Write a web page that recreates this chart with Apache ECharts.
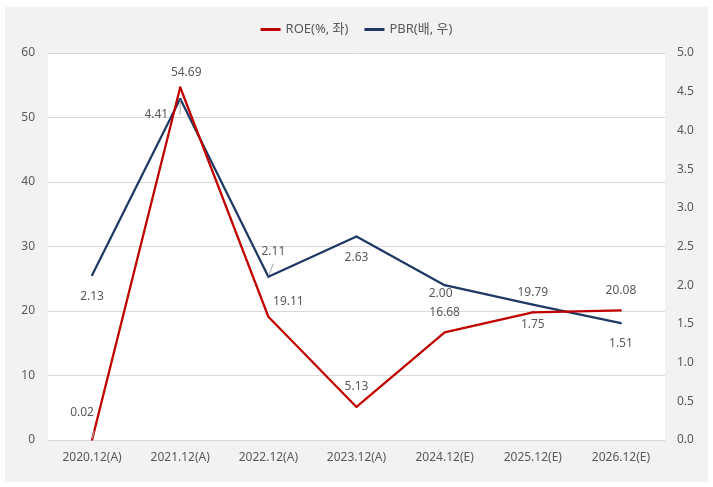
<!DOCTYPE html>
<html><head><meta charset="utf-8">
<script src="https://cdn.jsdelivr.net/npm/echarts@6/dist/echarts.min.js"></script>
<style>html,body{margin:0;padding:0;background:#fff}#c{width:713px;height:487px}</style>
</head><body><div id="c"></div>
<script>
const categories = ['2020.12(A)','2021.12(A)','2022.12(A)','2023.12(A)','2024.12(E)','2025.12(E)','2026.12(E)'];
const roe = [0.02, 54.69, 19.11, 5.13, 16.68, 19.79, 20.08];
const pbr = [2.13, 4.41, 2.11, 2.63, 2.00, 1.75, 1.51];
const roeName = 'ROE(%, 좌)';
const pbrName = 'PBR(배, 우)';

const FONT = '"Noto Sans", "Noto Sans CJK KR", sans-serif';
const TXT = '#595959';
const roeOffsets = [[-10,-15],[6,-3],[20,-3],[0,-8],[0,-8],[0,-8],[0,-8]];
const roeLine = [true,false,false,false,false,false,false];
const pbrLabels = [
  {position:'bottom', offset:[0,9]},
  {position:'left', offset:[-6,16]},
  {position:'top', offset:[5,-13]},
  {position:'bottom', offset:[0,9]},
  {position:'bottom', offset:[-4,-4]},
  {position:'bottom', offset:[0,8]},
  {position:'bottom', offset:[0,8]}
];
const pbrLine = [false,true,true,false,false,false,false];
const chart = echarts.init(document.getElementById('c'), null, {renderer:'canvas'});
chart.setOption({
  backgroundColor:'#ffffff',
  textStyle:{fontFamily:FONT},
  graphic:[{type:'rect', z:-10, shape:{x:5,y:7,width:703,height:475}, style:{fill:'#f2f2f2'}}],
  legend:{
    top:18, left:'center', itemWidth:20, itemHeight:3, itemGap:16, icon:'rect',
    textStyle:{color:TXT, fontSize:13, fontFamily:FONT},
    data:[{name:roeName, itemStyle:{color:'#c00000', opacity:1}}, {name:pbrName, itemStyle:{color:'#1f3864', opacity:1}}]
  },
  grid:{left:48, right:48, top:53, bottom:47, show:true, backgroundColor:'#ffffff', borderWidth:0},
  xAxis:{
    type:'category', data:categories, boundaryGap:true,
    axisLine:{lineStyle:{color:'#d9d9d9', width:1}},
    axisTick:{show:false},
    axisLabel:{color:TXT, fontSize:12, margin:12, fontFamily:FONT}
  },
  yAxis:[
    {type:'value', min:0, max:60, interval:10,
     axisLine:{show:false}, axisTick:{show:false},
     splitLine:{lineStyle:{color:'#d9d9d9', width:1}},
     axisLabel:{color:TXT, fontSize:12, margin:13, fontFamily:FONT}},
    {type:'value', min:0, max:5, interval:0.5,
     axisLine:{show:false}, axisTick:{show:false}, splitLine:{show:false},
     axisLabel:{color:TXT, fontSize:12, margin:12, fontFamily:FONT, formatter:v=>v.toFixed(1)}}
  ],
  series:[
    {name:roeName, type:'line', yAxisIndex:0, symbol:'circle', symbolSize:2, showSymbol:true, smooth:false,
     lineStyle:{color:'#c00000', width:2.25}, itemStyle:{color:'#c00000'},
     emphasis:{disabled:true},
     data: roe.map((v,i)=>({value:v,
        label:{show:true, position:'top', offset:roeOffsets[i],
          formatter:()=>v.toFixed(2), color:TXT, fontSize:12, fontFamily:FONT},
        labelLine:{show:roeLine[i], lineStyle:{color:'#a6a6a6', width:1}}})),
     z:3},
    {name:pbrName, type:'line', yAxisIndex:1, symbol:'circle', symbolSize:2, showSymbol:true, smooth:false,
     lineStyle:{color:'#1f3864', width:2.25}, itemStyle:{color:'#1f3864'},
     emphasis:{disabled:true},
     data: pbr.map((v,i)=>({value:v,
        label:Object.assign({show:true, formatter:()=>v.toFixed(2), color:TXT, fontSize:12, fontFamily:FONT}, pbrLabels[i]),
        labelLine:{show:pbrLine[i], lineStyle:{color:'#a6a6a6', width:1}}})),
     z:2}
  ]
});
</script></body></html>
